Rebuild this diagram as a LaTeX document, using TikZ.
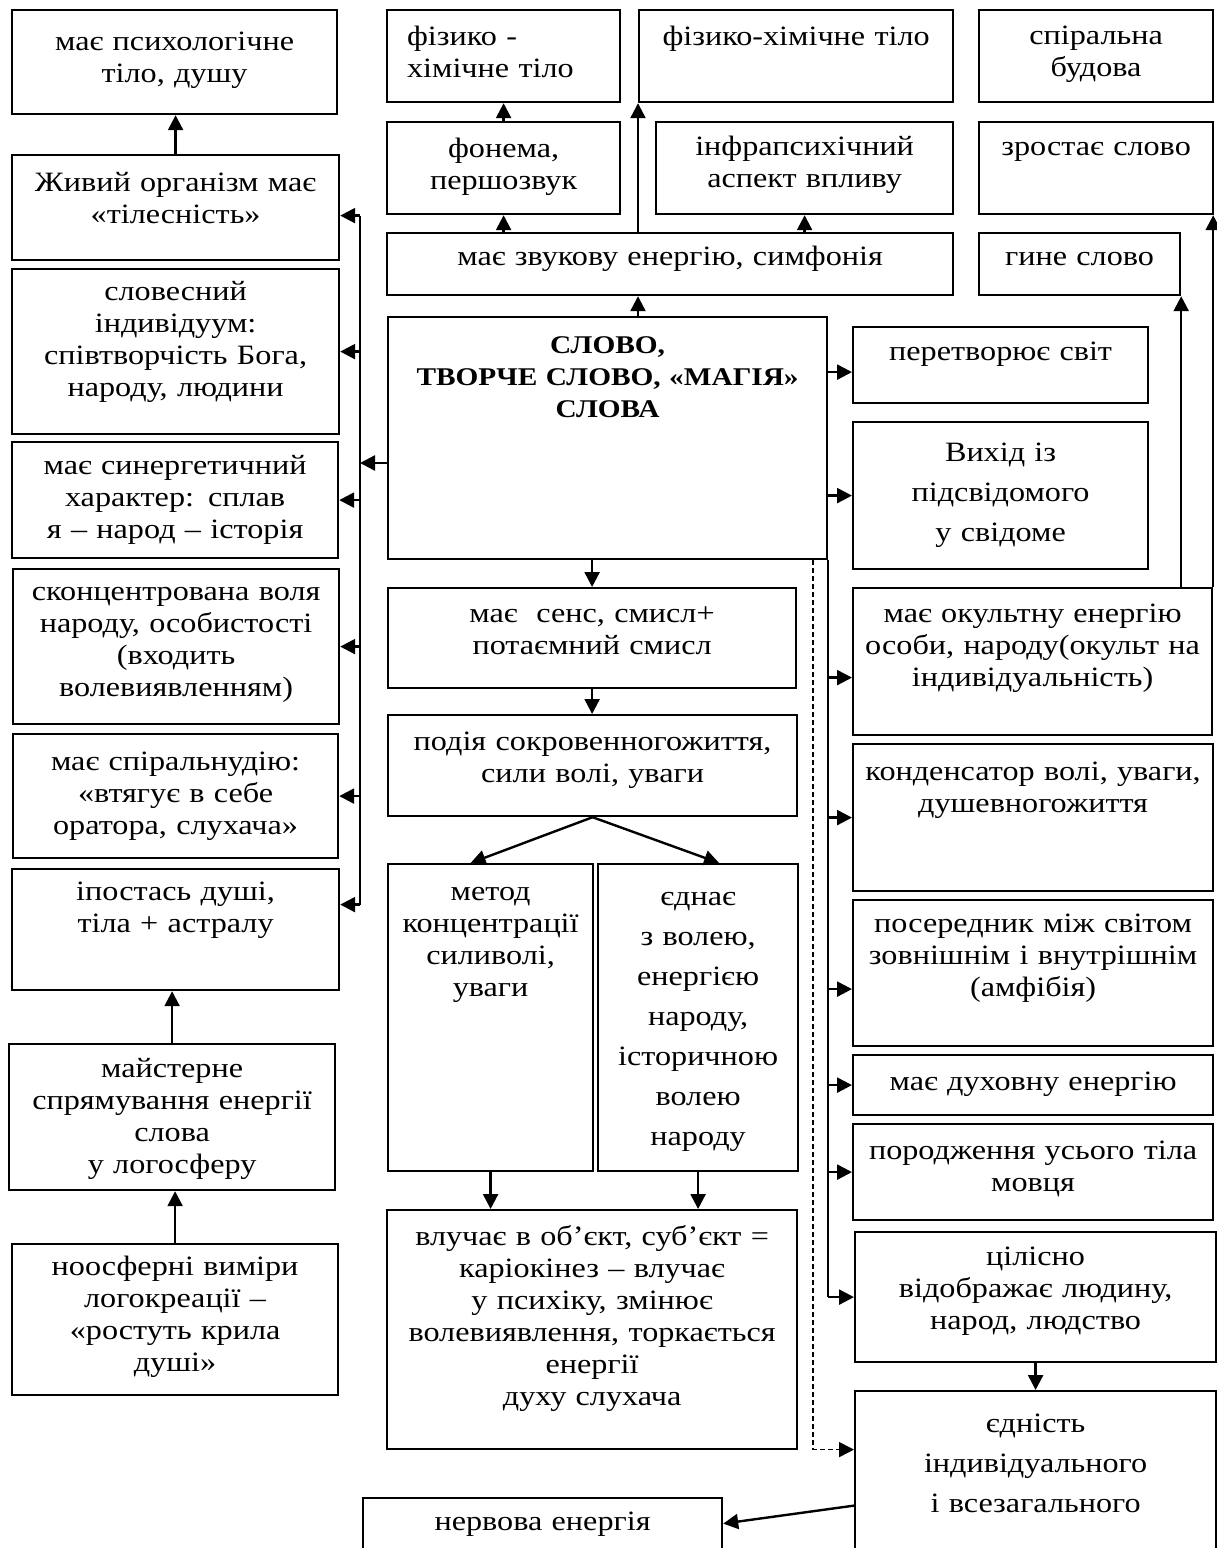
\documentclass[tikz,border=0pt]{standalone}
\usepackage{fontspec}
\setmainfont{Liberation Serif}[FakeStretch=1.15]
\usetikzlibrary{arrows.meta}
\usetikzlibrary{calc}

\tikzset{
  box/.style={draw, line width=2.2pt, anchor=north west, inner sep=0pt, align=center, font=\fontsize{28}{32}\selectfont},
  wide/.style={font=\fontsize{28}{40}\selectfont},
  arr/.style={line width=2.4pt, -{Triangle[length=15pt,width=15pt]}},
  bus/.style={line width=2.4pt},
}

\begin{document}
\begin{tikzpicture}[x=1pt,y=1pt,yscale=-1,xscale=1]
\useasboundingbox (0,0) rectangle (1217,1548);

% left column
\node[box, text width=325pt, text height=40pt, text depth=64pt] (psych) at (11,9) {має психологічне\\тіло, душу};
\node[box, text width=327pt, text height=36pt, text depth=69pt] (zhyvyi) at (11,154) {Живий організм має\\«тілесність»};
\node[box, text width=327pt, text height=31pt, text depth=134pt] (slovesnyi) at (11,268) {словесний\\індивідуум:\\співтворчість Бога,\\народу, людини};
\node[box, text width=326pt, text height=32pt, text depth=84pt] (synerg) at (11,441) {має синергетичний\\характер: сплав\\я – народ – історія};
\node[box, text width=326pt, text height=31pt, text depth=124pt] (skonc) at (12,568) {сконцентрована воля\\народу, особистості\\(входить\\волевиявленням)};
\node[box, text width=325pt, text height=36pt, text depth=88pt] (spiral) at (12,733) {має спіральнудію:\\«втягує в себе\\оратора, слухача»};
\node[box, text width=327pt, text height=31pt, text depth=90pt] (ipost) at (11,868) {іпостась душі,\\тіла + астралу};
\node[box, text width=326pt, text height=33pt, text depth=113pt] (maister) at (8,1043) {майстерне\\спрямування енергії\\слова\\у логосферу};
\node[box, text width=326pt, text height=31pt, text depth=120pt] (noosf) at (11,1243) {ноосферні виміри\\логокреації –\\«ростуть крила\\душі»};

% top rows
\node[box, align=left, inner xsep=20pt, text width=193pt, text height=35pt, text depth=57pt] (fizkhim1) at (386,9) {фізико -\\хімічне тіло};
\node[box, text width=314pt, text height=35pt, text depth=57pt] (fizkhim2) at (638,9) {фізико-хімічне тіло};
\node[box, text width=234pt, text height=34pt, text depth=58pt] (spiralna) at (978,9) {спіральна\\будова};
\node[box, text width=233pt, text height=35pt, text depth=57pt] (fonema) at (386,121) {фонема,\\першозвук};
\node[box, text width=297pt, text height=33pt, text depth=59pt] (infra) at (655,121) {інфрапсихічний\\аспект впливу};
\node[box, text width=234pt, text height=33pt, text depth=59pt] (zrostaie) at (978,121) {зростає слово};
\node[box, text width=566pt, text height=32pt, text depth=30pt] (zvuk) at (386,232) {має звукову енергію, симфонія};
\node[box, text width=201pt, text height=32pt, text depth=30pt] (hyne) at (978,232) {гине слово};

% centre
\node[box, font=\fontsize{25.5}{32}\selectfont\bfseries, text width=439pt, text height=36pt, text depth=206pt] (slovo) at (387,316) {СЛОВО,\\ТВОРЧЕ СЛОВО, «МАГІЯ»\\СЛОВА};
\node[box, text width=408pt, text height=34pt, text depth=66pt] (sens) at (387,587) {має \ сенс, смисл+\\потаємний смисл};
\node[box, text width=409pt, text height=35pt, text depth=66pt] (podiia) at (387,714) {подія сокровенногожиття,\\сили волі, уваги};
\node[box, text width=205pt, text height=36pt, text depth=271pt] (metod) at (387,863) {метод\\концентрації\\силиволі,\\уваги};
\node[box, wide, text width=200pt, text height=41pt, text depth=266pt] (yednaie) at (597,863) {єднає\\з волею,\\енергією\\народу,\\історичною\\волею\\народу};
\node[box, text width=410pt, text height=35pt, text depth=204pt] (vluchaie) at (386,1209) {влучає в об’єкт, суб’єкт =\\каріокінез – влучає\\у психіку, змінює\\волевиявлення, торкається\\енергії\\духу слухача};
\node[box, text width=359pt, text height=32pt, text depth=43pt] (nervova) at (362,1497) {нервова енергія};

% right column
\node[box, text width=295pt, text height=33pt, text depth=43pt] (peretvor) at (852,326) {перетворює світ};
\node[box, wide, text width=295pt, text height=39pt, text depth=108pt] (vykhid) at (852,421) {Вихід із\\підсвідомого\\у свідоме};
\node[box, text width=359pt, text height=34pt, text depth=113pt] (okult) at (852,587) {має окультну енергію\\особи, народу(окульт на\\індивідуальність)};
\node[box, text width=360pt, text height=36pt, text depth=111pt] (kondens) at (852,743) {конденсатор волі, уваги,\\душевногожиття};
\node[box, text width=360pt, text height=32pt, text depth=114pt] (poseredn) at (852,899) {посередник між світом\\зовнішнім і внутрішнім\\(амфібія)};
\node[box, text width=360pt, text height=35pt, text depth=25pt] (dukhovnu) at (852,1054) {має духовну енергію};
\node[box, text width=360pt, text height=35pt, text depth=61pt] (porodzh) at (852,1123) {породження усього тіла\\мовця};
\node[box, text width=361pt, text height=33pt, text depth=97pt] (tsilisno) at (854,1231) {цілісно\\відображає людину,\\народ, людство};
\node[box, wide, text width=361pt, text height=41pt, text depth=134pt] (yednist) at (854,1390) {єдність\\індивідуального\\і всезагального};

% left column arrows
\draw[arr] (zhyvyi.north) -- (zhyvyi.north |- psych.south);
\draw[arr] (maister.north) -- (maister.north |- ipost.south);
\draw[arr] (noosf.north) -- (noosf.north |- maister.south);

% left bus
\coordinate (lbus) at (360,463);
\coordinate (lz) at ([yshift=8pt]zhyvyi.east);
\coordinate (li) at ([yshift=-25pt]ipost.east);
\draw[arr] (slovo.west |- lbus) -- (lbus);
\draw[bus] (lbus |- lz) -- (lbus |- li);
\draw[arr] (lbus |- lz) -- (lz);
\draw[arr] (lbus |- slovesnyi.east) -- (slovesnyi.east);
\draw[arr] (lbus |- synerg.east) -- (synerg.east);
\draw[arr] (lbus |- skonc.east) -- (skonc.east);
\draw[arr] (lbus |- spiral.east) -- (spiral.east);
\draw[arr] (lbus |- li) -- (li);

% top arrows
\draw[arr] (slovo.north -| fizkhim2.west) -- (zvuk.south -| fizkhim2.west);
\draw[arr] (zvuk.north -| fizkhim2.west) -- (fizkhim2.south west);
\draw[arr] (zvuk.north -| fonema.south) -- (fonema.south);
\draw[arr] (fonema.north) -- (fizkhim1.south);
\draw[arr] (zvuk.north -| infra.south) -- (infra.south);
\draw[arr] (okult.north -| hyne.south east) -- (hyne.south east);
\draw[arr] (okult.north east) -- (okult.north east |- zrostaie.south);

% right bus
\coordinate (rp) at ([yshift=7pt]peretvor.west);
\coordinate (ro) at ([yshift=16pt]okult.west);
\coordinate (rs) at ([yshift=16pt]poseredn.west);
\draw[bus] (slovo.south east) -- (slovo.east |- tsilisno.west);
\draw[arr] (slovo.east |- rp) -- (rp);
\draw[arr] (slovo.east |- vykhid.west) -- (vykhid.west);
\draw[arr] (slovo.east |- ro) -- (ro);
\draw[arr] (slovo.east |- kondens.west) -- (kondens.west);
\draw[arr] (slovo.east |- rs) -- (rs);
\draw[arr] (slovo.east |- dukhovnu.west) -- (dukhovnu.west);
\draw[arr] (slovo.east |- porodzh.west) -- (porodzh.west);
\draw[arr] (slovo.east |- tsilisno.west) -- (tsilisno.west);

% dashed link
\coordinate (dsh) at ($(slovo.south east)+(-15,0)$);
\draw[arr, line width=1.5pt, dash pattern=on 5pt off 3pt] (dsh) |- ([yshift=-29pt]yednist.west);

% centre arrows
\draw[arr] (slovo.south -| sens.north) -- (sens.north);
\draw[arr] (sens.south) -- (sens.south |- podiia.north);
\draw[arr] (podiia.south) -- ([xshift=-20pt]metod.north);
\draw[arr] (podiia.south) -- ([xshift=21pt]yednaie.north);
\draw[arr] (metod.south) -- (metod.south |- vluchaie.north);
\draw[arr] (yednaie.south) -- (yednaie.south |- vluchaie.north);
\draw[arr] (tsilisno.south) -- (tsilisno.south |- yednist.north);
\draw[arr] ([yshift=27pt]yednist.west) -- ([yshift=-12pt]nervova.east);

\end{tikzpicture}
\end{document}
